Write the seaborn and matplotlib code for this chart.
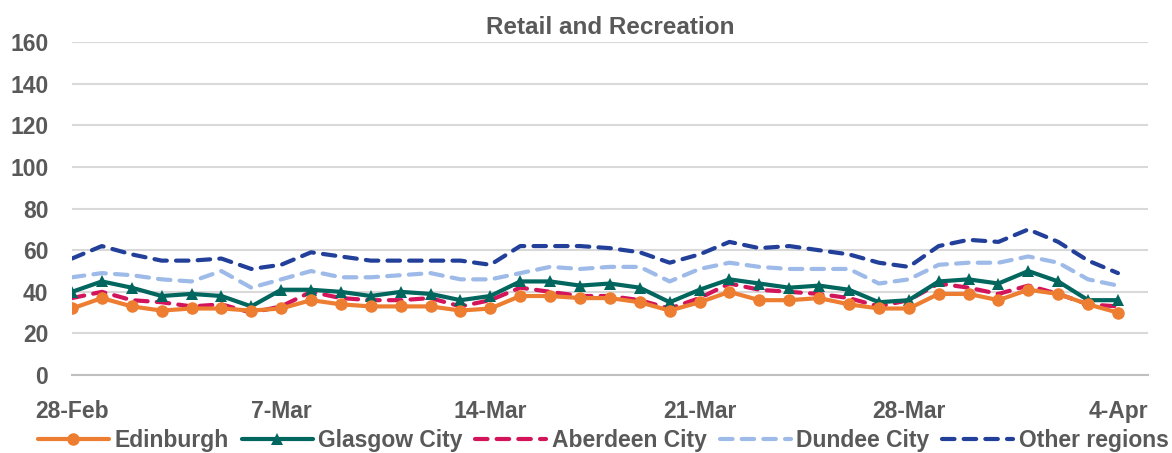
import seaborn as sns
import matplotlib.pyplot as plt
import pandas as pd
import numpy as np

dates = pd.date_range('2021-02-28', '2021-04-04', freq='D')

edinburgh = [32, 37, 33, 31, 32, 32, 31, 32, 36, 34, 33, 33, 33, 31, 32, 38, 38, 37, 37, 35, 31, 35,
             40, 36, 36, 37, 34, 32, 32, 39, 39, 36, 41, 39, 34, 30]
glasgow = [40, 45, 42, 38, 39, 38, 33, 41, 41, 40, 38, 40, 39, 36, 38, 45, 45, 43, 44, 42, 35, 41,
           46, 44, 42, 43, 41, 35, 36, 45, 46, 44, 50, 45, 36, 36]
aberdeen = [37, 40, 36, 35, 33, 34, 30, 33, 40, 37, 36, 36, 37, 33, 36, 42, 40, 38, 38, 36, 32, 37,
            44, 41, 40, 39, 37, 33, 36, 44, 42, 39, 43, 39, 34, 33]
dundee = [47, 49, 48, 46, 45, 50, 42, 46, 50, 47, 47, 48, 49, 46, 46, 49, 52, 51, 52, 52, 45, 51,
          54, 52, 51, 51, 51, 44, 46, 53, 54, 54, 57, 54, 46, 43]
other = [56, 62, 58, 55, 55, 56, 51, 53, 59, 57, 55, 55, 55, 55, 53, 62, 62, 62, 61, 59, 54, 58,
         64, 61, 62, 60, 58, 54, 52, 62, 65, 64, 70, 64, 55, 49]

names = ['Edinburgh', 'Glasgow City', 'Aberdeen City', 'Dundee City', 'Other regions']
colors = ['#ED7D31', '#00665E', '#D3145A', '#9DBAE8', '#22409A']
tick_labels = ['28-Feb', '7-Mar', '14-Mar', '21-Mar', '28-Mar', '4-Apr']

df = pd.DataFrame({'day': np.arange(len(dates)), 'Edinburgh': edinburgh, 'Glasgow City': glasgow,
                   'Aberdeen City': aberdeen, 'Dundee City': dundee, 'Other regions': other})

sns.set_theme(style='white')
plt.rcParams['font.family'] = ['Liberation Sans', 'DejaVu Sans']
plt.rcParams['font.weight'] = 'bold'
grey = '#595959'
fs = 16.5

fig = plt.figure(figsize=(11.72, 4.53), dpi=100)
ax = fig.add_axes([0.0614, 0.172, 0.918, 0.735])

styles = {
    'Edinburgh': dict(marker='o', markersize=9, linestyle='-'),
    'Glasgow City': dict(marker='^', markersize=9, linestyle='-'),
    'Aberdeen City': dict(dashes=(3, 2.2)),
    'Dundee City': dict(dashes=(3, 2.2)),
    'Other regions': dict(dashes=(3, 2.2)),
}

# draw back to front so Edinburgh sits on top
for name, col in reversed(list(zip(names, colors))):
    st = styles[name]
    sns.lineplot(data=df, x='day', y=name, ax=ax, color=col, linewidth=3,
                 label=name, markeredgewidth=0, dash_capstyle='round',
                 solid_capstyle='round', **st)

ax.set_xlim(0, 36)
ax.set_ylim(0, 160)
ax.set_yticks(range(0, 161, 20))
ax.set_xticks([0, 7, 14, 21, 28, 35])
ax.set_xticklabels(tick_labels)
ax.yaxis.grid(True, color='#D9D9D9', linewidth=1.5)
ax.set_axisbelow(True)
for s in ['left', 'right', 'top']:
    ax.spines[s].set_visible(False)
ax.spines['bottom'].set_color('#BFBFBF')
ax.spines['bottom'].set_linewidth(1.5)
ax.tick_params(axis='x', length=7, width=1.5, color='#BFBFBF', pad=11, labelsize=fs, labelcolor=grey)
ax.tick_params(axis='y', length=0, pad=17, labelsize=fs, labelcolor=grey)
for lbl in ax.get_xticklabels() + ax.get_yticklabels():
    lbl.set_fontweight('bold')
ax.set_xlabel('')
ax.set_ylabel('')
ax.set_title('Retail and Recreation', fontsize=17.5, fontweight='bold', color=grey, pad=6)

handles, labels = ax.get_legend_handles_labels()
order = [labels.index(n) for n in names]
ax.legend([handles[i] for i in order], [labels[i] for i in order], loc='center',
          bbox_to_anchor=(0.494, -0.197), ncol=5, frameon=False,
          handlelength=3.1, columnspacing=0.55, handletextpad=0.25, labelcolor=grey,
          borderaxespad=0, borderpad=0, prop={'weight': 'bold', 'size': fs})

fig.savefig('out.png', dpi=100)
